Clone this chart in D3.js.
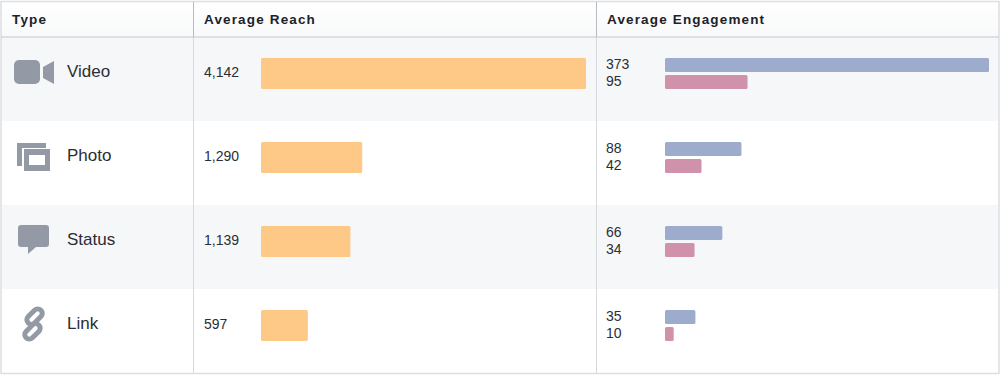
<!DOCTYPE html>
<html>
<head>
<meta charset="utf-8">
<script src="https://cdn.jsdelivr.net/npm/d3@7"></script>
<style>
  html, body { margin: 0; padding: 0; background: #fff; }
  svg { display: block; }
  text { font-family: "Liberation Sans", Arial, sans-serif; }
</style>
</head>
<body>
<div id="chart"></div>
<script>
// Values
const types = ["Video", "Photo", "Status", "Link"];
const headers = ["Type", "Average Reach", "Average Engagement"];
const reach = [4142, 1290, 1139, 597];
const engagementA = [373, 88, 66, 35];
const engagementB = [95, 42, 34, 10];

const width = 1000;
const height = 375;
const headerBottom = 37;
const tableBottom = 373;
const col1 = 193;
const col2 = 596;

const svg = d3.select("#chart").append("svg")
    .attr("width", width)
    .attr("height", height);

const y = d3.scaleBand()
    .domain(types)
    .range([headerBottom, tableBottom]);

const xReach = d3.scaleLinear()
    .domain([0, d3.max(reach)])
    .range([261, 586]);

const xEngage = d3.scaleLinear()
    .domain([0, d3.max(engagementA)])
    .range([665, 989]);

const fmt = d3.format(",");

// Header gradient
const grad = svg.append("defs").append("linearGradient")
    .attr("id", "head")
    .attr("x1", 0).attr("y1", 0).attr("x2", 0).attr("y2", 1);
grad.append("stop").attr("offset", 0).attr("stop-color", "#ffffff");
grad.append("stop").attr("offset", 1).attr("stop-color", "#f8f9fa");

svg.append("rect")
    .attr("x", 1).attr("y", 1)
    .attr("width", 998).attr("height", headerBottom - 1)
    .attr("fill", "url(#head)");

// Row backgrounds
svg.selectAll(".row")
  .data(types)
  .enter().append("rect")
    .attr("class", "row")
    .attr("x", 1)
    .attr("y", d => y(d))
    .attr("width", 998)
    .attr("height", y.bandwidth())
    .attr("fill", (d, i) => i % 2 === 0 ? "#f6f7f9" : "#ffffff");

// Table lines
const lineColor = "#d6d8dc";
svg.append("rect")
    .attr("x", 1).attr("y", 1.5)
    .attr("width", 998).attr("height", tableBottom - 1)
    .attr("fill", "none")
    .attr("stroke", "#dcdee2")
    .attr("stroke-width", 1.5);
svg.append("line")
    .attr("x1", 1).attr("x2", 999)
    .attr("y1", headerBottom).attr("y2", headerBottom)
    .attr("stroke", "#c6c8cc")
    .attr("stroke-width", 1.2);
svg.selectAll(".divider")
  .data([col1, col2])
  .enter().append("line")
    .attr("class", "divider")
    .attr("x1", d => d + 0.5).attr("x2", d => d + 0.5)
    .attr("y1", 1).attr("y2", tableBottom)
    .attr("stroke", lineColor);
svg.selectAll(".divider-top")
  .data([col1, col2])
  .enter().append("line")
    .attr("class", "divider-top")
    .attr("x1", d => d + 0.5).attr("x2", d => d + 0.5)
    .attr("y1", 2).attr("y2", headerBottom)
    .attr("stroke", "#b9bbc0");

// Header labels
svg.selectAll(".head")
  .data(headers)
  .enter().append("text")
    .attr("class", "head")
    .attr("x", (d, i) => [12, 204, 607][i])
    .attr("y", 24)
    .attr("font-size", 13.5)
    .attr("font-weight", 700)
    .attr("letter-spacing", 1.15)
    .attr("fill", "#1d2129")
    .text(d => d);

// Type labels
svg.selectAll(".type")
  .data(types)
  .enter().append("text")
    .attr("class", "type")
    .attr("x", 67)
    .attr("y", d => y(d) + 40)
    .attr("font-size", 17)
    .attr("fill", "#2b2e34")
    .text(d => d);

// Icons, drawn around each row's top left corner
const iconColor = "#939aa6";
const icons = {
  Video: g => {
    g.append("rect").attr("x", 14).attr("y", 23).attr("width", 26).attr("height", 24)
      .attr("rx", 5).attr("fill", iconColor);
    g.append("path").attr("d", "M43 30 L54 24 V47 L43 41 Z").attr("fill", iconColor);
  },
  Photo: g => {
    g.append("path").attr("d", "M17 22 H46 V27 H22 V45 H17 Z").attr("fill", iconColor);
    g.append("path")
      .attr("fill-rule", "evenodd")
      .attr("d", "M24 28 H50 V50 H24 Z M29 34 V44 H45 V34 Z")
      .attr("fill", iconColor);
  },
  Status: g => {
    g.append("path")
      .attr("d", "M21 20 H46 Q49 20 49 23 V39 Q49 42 46 42 H36 L28 49 V42 H21 Q18 42 18 39 V23 Q18 20 21 20 Z")
      .attr("fill", iconColor);
  },
  Link: g => {
    const link = g.append("g").attr("transform", "translate(33.5,35) rotate(-45)");
    link.append("rect").attr("x", -15).attr("y", 0).attr("width", 18).attr("height", 9)
      .attr("rx", 4.5).attr("fill", "none").attr("stroke", iconColor).attr("stroke-width", 5);
    link.append("rect").attr("x", -3).attr("y", -9).attr("width", 18).attr("height", 9)
      .attr("rx", 4.5).attr("fill", "none").attr("stroke", iconColor).attr("stroke-width", 5);
  }
};
types.forEach(t => {
  const g = svg.append("g").attr("transform", `translate(0,${y(t)})`);
  icons[t](g);
});

// Average reach
const barTop = 21;
const barHeight = 31;

svg.selectAll(".reach-bar")
  .data(reach)
  .enter().append("rect")
    .attr("class", "reach-bar")
    .attr("x", xReach(0))
    .attr("y", (d, i) => y(types[i]) + barTop)
    .attr("width", d => xReach(d) - xReach(0))
    .attr("height", barHeight)
    .attr("rx", 1.5)
    .attr("fill", "#fec887");

svg.selectAll(".reach-label")
  .data(reach)
  .enter().append("text")
    .attr("class", "reach-label")
    .attr("x", 204)
    .attr("y", (d, i) => y(types[i]) + 40)
    .attr("font-size", 14)
    .attr("fill", "#2b2e34")
    .text(d => fmt(d));

// Average engagement, two thin bars per row
const engageHeight = 14;
const engageSeries = [
  {name: "a", values: engagementA, color: "#9dabcd", top: 21, text: 32},
  {name: "b", values: engagementB, color: "#cf92aa", top: 38, text: 49}
];

engageSeries.forEach(s => {
  svg.selectAll(".bar-" + s.name)
    .data(s.values)
    .enter().append("rect")
      .attr("class", "bar-" + s.name)
      .attr("x", xEngage(0))
      .attr("y", (d, i) => y(types[i]) + s.top)
      .attr("width", d => xEngage(d) - xEngage(0))
      .attr("height", engageHeight)
      .attr("rx", 1.5)
      .attr("fill", s.color);

  svg.selectAll(".label-" + s.name)
    .data(s.values)
    .enter().append("text")
      .attr("class", "label-" + s.name)
      .attr("x", 606)
      .attr("y", (d, i) => y(types[i]) + s.text)
      .attr("font-size", 14)
      .attr("fill", "#2b2e34")
      .text(d => d);
});
</script>
</body>
</html>
